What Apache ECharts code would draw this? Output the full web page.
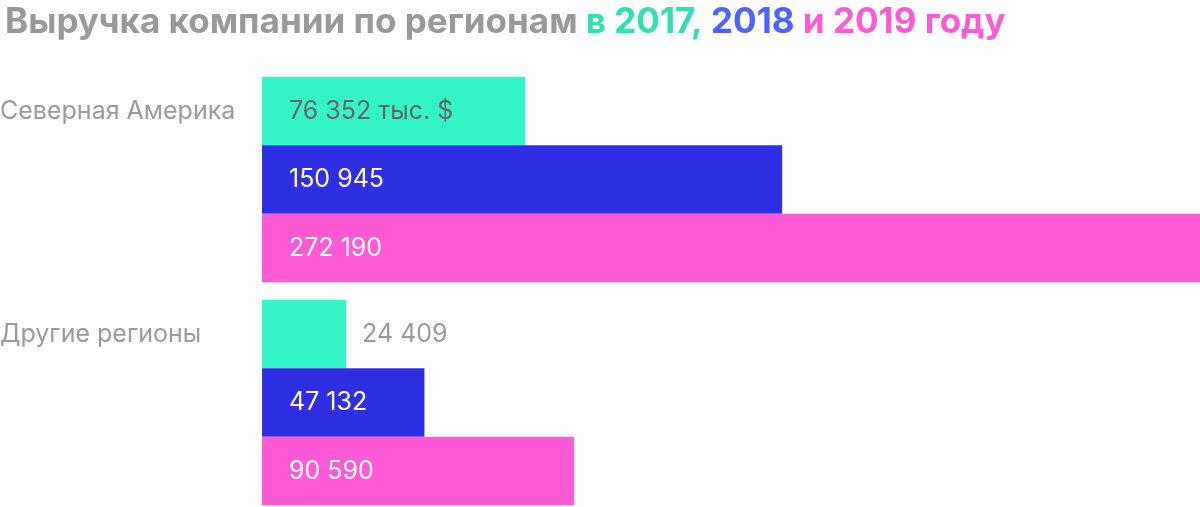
<!DOCTYPE html>
<html lang="ru">
<head>
<meta charset="utf-8">
<title>Выручка компании по регионам</title>
<script src="https://cdn.jsdelivr.net/npm/echarts@6/dist/echarts.min.js"></script>
<style>
  html, body { margin: 0; padding: 0; background: #fff; }
  #chart { width: 1200px; height: 507px; }
</style>
</head>
<body>
<div id="chart"></div>
<script>
// данные
const regions = ['Северная Америка', 'Другие регионы'];
const years = ['2017', '2018', '2019'];
const revenue2017 = [76352, 24409];
const revenue2018 = [150945, 47132];
const revenue2019 = [272190, 90590];

const barColors = ['#33f5c8', '#2e2ee2', '#ff5ad6'];
const FONT = 'Inter';

const fmt = v => String(v).replace(/\B(?=(\d{3})+(?!\d))/g, ' ');

document.addEventListener('DOMContentLoaded', () => {
    const myChart = echarts.init(document.getElementById('chart'));
    const seriesValues = [revenue2017, revenue2018, revenue2019];

    const series = seriesValues.map((values, si) => ({
        name: years[si],
        type: 'bar',
        barWidth: 68.5,
        barGap: '0%',
        itemStyle: { color: barColors[si] },
        label: {
            show: true,
            position: 'insideLeft',
            distance: 27,
            color: '#fff',
            fontFamily: FONT,
            fontSize: 25,
            formatter: p => fmt(p.value) + (si === 0 && p.dataIndex === 0 ? ' тыс. $' : '')
        },
        data: values.map((v, i) => {
            // короткий столбик — подпись снаружи
            if (v < 30000) {
                return { value: v, label: { position: 'right', distance: 16, color: '#9a9a9a' } };
            }
            if (si === 0) {
                return { value: v, label: { color: '#666' } };
            }
            return v;
        })
    }));

    const titleStyle = color => ({ color: color, fontFamily: FONT, fontWeight: 'bold', fontSize: 35 });

    const option = {
        animation: false,
        title: {
            left: 0,
            top: 0,
            text: '{a|Выручка компании по регионам }{b|в 2017, }{c|2018 }{d|и 2019 году}',
            textStyle: {
                rich: {
                    a: titleStyle('#999999'),
                    b: titleStyle('#2fe0b2'),
                    c: titleStyle('#4d63ff'),
                    d: titleStyle('#ff5ad6')
                }
            }
        },
        grid: { left: 262, right: 0, top: 68, height: 446, outerBoundsMode: 'none', containLabel: false },
        xAxis: {
            type: 'value',
            min: 0,
            max: 272190,
            show: false
        },
        yAxis: {
            type: 'category',
            inverse: true,
            data: regions,
            axisLine: { show: false },
            axisTick: { show: false },
            splitLine: { show: false },
            axisLabel: {
                align: 'left',
                verticalAlign: 'bottom',
                lineHeight: 137,
                margin: 262,
                color: '#9a9a9a',
                fontFamily: FONT,
                fontSize: 25
            }
        },
        series: series
    };
    myChart.setOption(option);
});
</script>
</body>
</html>
